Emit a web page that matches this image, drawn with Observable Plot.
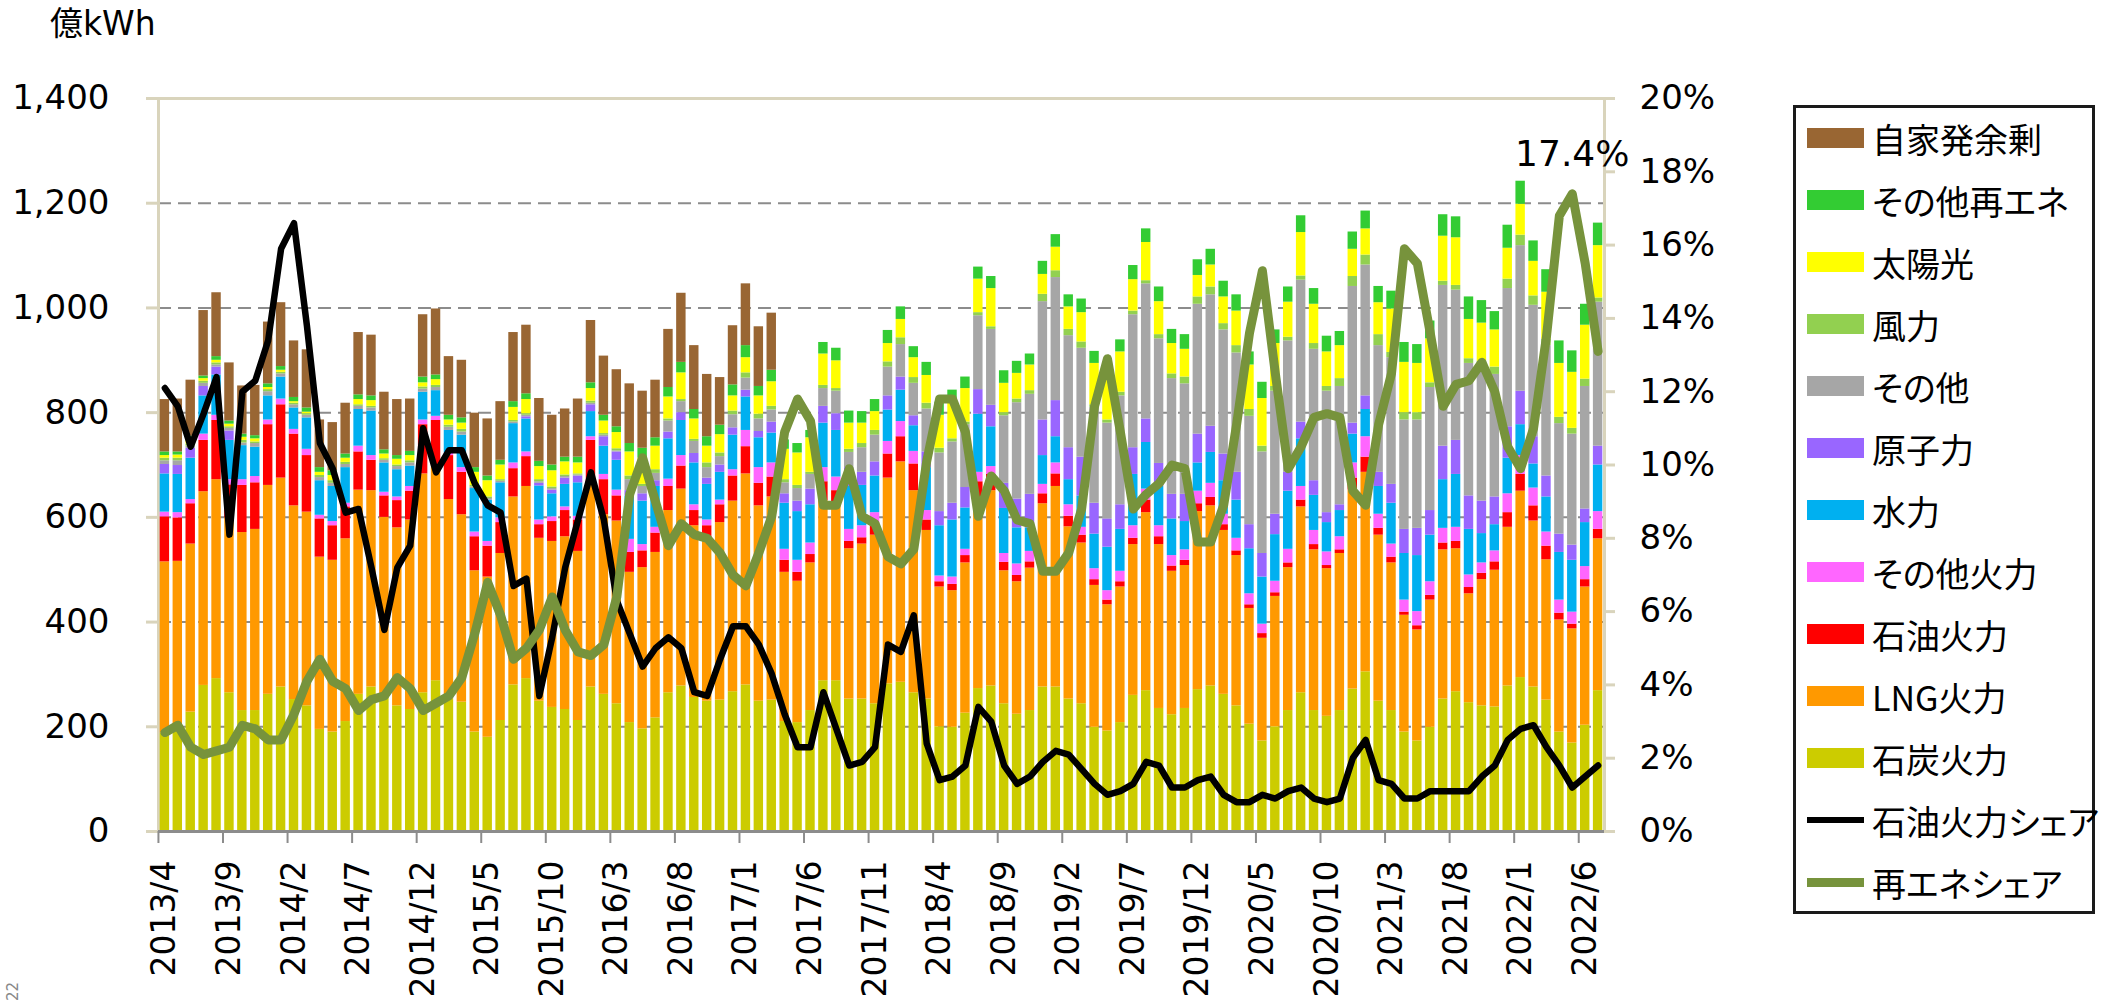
<!DOCTYPE html>
<html>
<head>
<meta charset="utf-8">
<script src="https://cdn.jsdelivr.net/npm/d3@7"></script>
<script src="https://cdn.jsdelivr.net/npm/@observablehq/plot@0.6"></script>
<style>
  html, body { margin: 0; padding: 0; background: #ffffff; }
  #wrap { position: relative; width: 2107px; height: 1005px; overflow: hidden; background: #ffffff;
          font-family: "DejaVu Sans", "Noto Sans CJK JP", sans-serif; }
  #chart { position: absolute; left: 0; top: 0; }
  #unit { position: absolute; left: 50px; top: 2px; font-size: 33px; line-height: 44px; color: #000; }
  #legend { position: absolute; left: 1793px; top: 105px; width: 302px; height: 809px;
            border: 3px solid #1a1a1a; box-sizing: border-box; background: #fff; }
  .item { position: absolute; left: 11px; height: 44px; display: flex; align-items: center;
          font-family: "Noto Sans CJK JP", sans-serif; font-size: 34px; color: #000;
          font-feature-settings: "palt"; white-space: nowrap; }
  .sw { width: 57px; height: 20px; margin-right: 8px; flex: none; }
  .ln { width: 57px; margin-right: 8px; flex: none; }
  #note { position: absolute; left: 4px; top: 1001px; font-size: 15px; line-height: 18px; color: #888;
          transform: rotate(-90deg); transform-origin: left top; white-space: nowrap; }
</style>
</head>
<body>
<div id="wrap">
  <div id="chart"></div>
  <div id="unit">億kWh</div>
  <div id="legend"></div>
  <div id="note">22</div>
</div>
<script>
// ---------- categories ----------
const months = [
  "2013/4","2013/5","2013/6","2013/7","2013/8","2013/9","2013/10","2013/11","2013/12",
  "2014/1","2014/2","2014/3","2014/4","2014/5","2014/6","2014/7","2014/8","2014/9","2014/10","2014/11","2014/12",
  "2015/1","2015/2","2015/3","2015/4","2015/5","2015/6","2015/7","2015/8","2015/9","2015/10","2015/11","2015/12",
  "2016/1","2016/2","2016/3","2016/4","2016/5","2016/6","2016/7","2016/8","2016/9","2016/10","2016/11","2016/12",
  "2017/1","2017/2","2017/3","2017/4","2017/5","2017/6","2017/7","2017/8","2017/9","2017/10","2017/11","2017/12",
  "2018/1","2018/2","2018/3","2018/4","2018/5","2018/6","2018/7","2018/8","2018/9","2018/10","2018/11","2018/12",
  "2019/1","2019/2","2019/3","2019/4","2019/5","2019/6","2019/7","2019/8","2019/9","2019/10","2019/11","2019/12",
  "2020/1","2020/2","2020/3","2020/4","2020/5","2020/6","2020/7","2020/8","2020/9","2020/10","2020/11","2020/12",
  "2021/1","2021/2","2021/3","2021/4","2021/5","2021/6","2021/7","2021/8","2021/9","2021/10","2021/11","2021/12",
  "2022/1","2022/2","2022/3","2022/4","2022/5","2022/6","2022/7"
];
const tickLabels = ["2013/4","2013/9","2014/2","2014/7","2014/12","2015/5","2015/10","2016/3","2016/8",
  "2017/1","2017/6","2017/11","2018/4","2018/9","2019/2","2019/7","2019/12","2020/5","2020/10",
  "2021/3","2021/8","2022/1","2022/6"];
const yTicks = [0, 200, 400, 600, 800, 1000, 1200, 1400];
const pctTicks = [0, 2, 4, 6, 8, 10, 12, 14, 16, 18, 20];

// ---------- series values (億kWh) ----------
const coal = [188,203,228,279,292,265,231,231,262,276,252,240,195,190,
  210,262,276,258,240,233,265,288,253,247,190,180,212,280,
  292,249,237,233,212,276,262,244,208,196,217,265,278,256,
  249,251,267,280,249,251,210,208,231,288,288,253,253,244,
  282,285,265,253,200,199,226,273,278,244,224,231,276,276,
  253,244,199,192,208,260,269,235,223,235,271,278,262,240,
  205,173,200,231,265,231,220,231,272,305,249,231,190,173,
  199,253,267,246,240,238,278,294,276,251,190,169,203,269];
const lng = [327,313,321,370,380,334,340,346,399,399,370,370,329,328,
  349,390,375,342,340,362,418,412,381,358,308,306,319,359,
  367,311,317,330,323,387,343,349,287,308,316,348,376,328,
  307,339,364,403,373,388,285,270,282,344,337,287,296,322,
  393,421,386,322,267,261,287,362,373,254,253,272,350,383,
  329,307,271,241,259,288,340,313,274,273,340,344,313,287,
  221,196,249,273,355,307,282,300,380,381,317,282,223,212,
  243,285,273,208,241,261,303,356,317,268,214,218,264,290];
const oil = [86,83,77,98,113,63,90,89,116,140,137,108,73,66,
  61,73,58,41,52,55,94,85,84,81,65,59,59,54,
  57,26,38,50,60,84,67,48,38,32,37,46,44,29,
  28,34,48,52,43,38,23,17,16,36,26,14,12,18,
  46,48,51,20,10,12,14,33,31,16,12,12,19,24,
  20,15,11,9,10,12,24,15,10,10,15,16,11,9,
  7,9,7,9,13,10,6,7,23,29,13,11,6,8,
  9,13,14,12,12,16,28,32,29,26,13,9,14,18];
const otherThermal = [9,10,8,12,10,10,11,12,9,11,9,12,7,8,
  7,11,9,7,7,9,9,8,5,9,9,9,9,11,
  9,9,9,7,7,7,10,11,25,12,11,14,20,11,
  11,9,12,31,30,27,21,23,22,27,26,23,23,25,
  24,29,24,18,11,14,12,18,15,17,22,20,18,21,
  22,15,21,18,20,24,21,21,20,20,24,27,20,24,
  21,18,22,26,26,27,26,25,29,39,27,25,23,27,
  26,28,27,24,20,21,36,36,34,27,25,23,25,34];
const hydro = [73,73,79,73,77,75,65,56,46,42,41,60,66,67,
  68,70,85,56,52,39,53,49,43,62,83,79,67,75,
  63,65,44,43,64,48,54,57,82,83,78,77,67,80,
  68,53,66,64,57,57,88,93,73,85,89,82,77,70,
  60,60,49,82,96,109,79,111,76,86,69,45,55,50,
  48,60,66,83,80,98,89,75,70,54,54,59,64,73,
  86,90,89,111,91,67,56,50,55,52,53,78,89,107,
  89,93,101,87,56,50,68,59,46,67,91,99,84,89];
const nuclear = [18,17,19,18,15,18,0,0,0,0,0,0,0,0,
  0,0,0,0,0,0,0,0,0,0,0,0,0,0,
  4,5,7,12,13,13,18,16,11,14,11,13,15,18,
  12,14,14,13,12,21,18,20,30,32,32,36,25,27,
  27,25,19,30,27,32,39,47,41,48,55,64,68,69,
  61,74,59,54,47,51,45,44,47,52,55,50,51,53,
  46,45,39,36,32,28,19,11,21,26,27,36,46,52,
  47,64,65,64,62,53,60,64,52,40,35,29,26,36];
const otherGen = [7,9,4,6,4,5,5,7,8,6,6,5,6,6,
  6,6,6,5,6,6,6,6,6,6,3,3,3,3,
  3,3,3,3,2,3,3,2,21,14,14,21,21,23,
  20,16,25,23,24,23,21,24,28,34,43,29,47,51,
  55,62,62,82,112,117,120,141,145,129,184,191,226,235,
  214,208,183,183,208,254,258,238,221,211,248,251,237,228,
  207,194,235,251,271,251,232,226,261,250,242,242,209,207,
  235,307,287,253,257,234,264,278,251,249,211,212,234,275];
const wind = [5,5,4,4,4,3,5,3,4,3,3,3,4,5,
  4,3,3,3,3,4,4,4,4,5,3,3,3,3,
  3,4,3,3,2,4,3,4,7,4,7,4,4,4,
  9,7,7,10,9,7,6,6,4,6,5,6,8,9,
  10,13,11,11,9,6,5,6,5,6,7,7,14,13,
  12,12,5,6,7,7,6,8,9,13,14,15,12,14,
  13,11,9,7,8,11,9,15,19,19,21,10,14,14,
  9,8,9,9,10,14,18,20,18,12,12,11,14,8];
const solar = [5,6,7,5,5,5,6,6,4,4,3,3,6,10,
  8,10,11,9,11,10,8,11,10,12,25,31,28,25,
  27,25,31,25,21,24,24,31,46,50,45,42,51,39,
  32,35,29,29,35,47,58,62,66,60,53,50,39,36,
  35,35,38,53,63,75,64,64,73,56,49,49,38,45,
  43,56,79,82,77,60,73,63,58,53,41,42,51,66,
  85,91,82,67,83,75,66,63,52,50,61,83,96,94,
  84,86,91,75,73,71,59,59,66,90,103,107,103,100];
const otherRE = [7,6,8,5,7,6,6,6,7,7,8,8,9,9,
  8,9,9,8,7,8,11,9,9,10,9,9,9,11,
  11,10,11,9,11,11,11,11,16,19,16,18,20,18,
  18,18,21,23,18,22,18,18,14,22,24,23,22,23,
  25,24,21,25,25,18,22,23,23,24,23,21,25,24,
  23,26,23,23,23,27,26,28,27,28,30,30,30,31,
  25,31,26,29,32,30,30,27,33,34,31,34,38,36,
  34,41,40,43,43,35,44,44,39,43,43,41,40,43];
const selfSurplus = [100,101,107,125,122,111,92,96,118,122,108,111,91,92,
  97,119,116,110,107,100,119,126,112,110,104,109,112,132,
  131,120,95,92,111,119,113,109,114,109,110,111,132,122,
  119,91,113,118,114,109,0,0,0,0,0,0,0,0,
  0,0,0,0,0,0,0,0,0,0,0,0,0,0,
  0,0,0,0,0,0,0,0,0,0,0,0,0,0,
  0,0,0,0,0,0,0,0,0,0,0,0,0,0,
  0,0,0,0,0,0,0,0,0,0,0,0,0,0];

// ---------- share lines (%) ----------
const oilShare = [12.1,11.6,10.5,11.4,12.4,8.1,12.0,12.3,13.4,15.9,16.6,13.8,10.6,9.9,
  8.7,8.8,7.2,5.5,7.2,7.8,11.0,9.8,10.4,10.4,9.5,8.9,8.7,6.7,
  6.9,3.7,5.3,7.2,8.5,9.8,8.5,6.3,5.4,4.5,5.0,5.3,5.0,3.8,
  3.7,4.7,5.6,5.6,5.1,4.3,3.2,2.3,2.3,3.8,2.8,1.8,1.9,2.3,
  5.1,4.9,5.9,2.4,1.4,1.5,1.8,3.4,3.0,1.8,1.3,1.5,1.9,2.2,
  2.1,1.7,1.3,1.0,1.1,1.3,1.9,1.8,1.2,1.2,1.4,1.5,1.0,0.8,
  0.8,1.0,0.9,1.1,1.2,0.9,0.8,0.9,2.0,2.5,1.4,1.3,0.9,0.9,
  1.1,1.1,1.1,1.1,1.5,1.8,2.5,2.8,2.9,2.3,1.8,1.2,1.5,1.8];
const reShare = [2.7,2.9,2.3,2.1,2.2,2.3,2.9,2.8,2.5,2.5,3.2,4.1,4.7,4.1,
  3.9,3.3,3.6,3.7,4.2,3.9,3.3,3.5,3.7,4.2,5.4,6.8,5.9,4.7,
  5.0,5.5,6.4,5.5,4.9,4.8,5.1,6.4,9.2,10.2,9.0,7.8,8.4,8.1,
  8.0,7.6,7.0,6.7,7.6,8.6,10.9,11.8,11.2,8.9,8.9,9.9,8.6,8.4,
  7.5,7.3,7.7,10.1,11.8,11.8,10.9,8.6,9.7,9.3,8.5,8.4,7.1,7.1,
  7.6,8.8,11.6,12.9,10.9,8.8,9.2,9.5,10.0,9.9,7.9,7.9,8.9,11.1,
  13.6,15.3,12.5,9.9,10.5,11.3,11.4,11.3,9.3,8.9,11.1,12.5,15.9,15.5,
  13.6,11.6,12.2,12.3,12.8,12.0,10.5,9.9,11.0,13.5,16.8,17.4,15.5,13.1];

const peakLabel = {month: "2022/5", value: 17.4, text: "17.4%"};

// ---------- series names / colours (bottom -> top) ----------
const stackOrder = ["石炭火力","LNG火力","石油火力","その他火力","水力","原子力","その他","風力","太陽光","その他再エネ","自家発余剰"];
const stackColors = ["#CCCC00","#FF9900","#FF0000","#FF66FF","#00B0F0","#9966FF","#A6A6A6","#92D050","#FFFF00","#33CC33","#996633"];
const seriesValues = [coal, lng, oil, otherThermal, hydro, nuclear, otherGen, wind, solar, otherRE, selfSurplus];
const oilLineName = "石油火力シェア", reLineName = "再エネシェア";
const oilLineColor = "#000000", reLineColor = "#77933C";

// right axis: 20% corresponds to 1400 億kWh
const PCT = 1400 / 20;

const rows = [];
months.forEach((m, i) => {
  stackOrder.forEach((s, k) => rows.push({month: m, series: s, value: seriesValues[k][i]}));
});
const shares = months.map((m, i) => ({month: m, oil: oilShare[i], re: reShare[i]}));

const W = 2107, H = 1005;
const mL = 158, mR = 503, mT = 98, mB = 174;
const step = (W - mL - mR) / (months.length - 0.27 + 0.26);

const gridColor = "#8C8C8C", frameColor = "#D9D4BC";

const chart = Plot.plot({
  width: W, height: H,
  marginLeft: mL, marginRight: mR, marginTop: mT, marginBottom: mB,
  style: {fontFamily: '"DejaVu Sans", "Noto Sans CJK JP", sans-serif', color: "#000", background: "transparent", overflow: "visible"},
  x: {type: "band", domain: months, paddingInner: 0.27, paddingOuter: 0.13, round: false},
  y: {domain: [0, 1400]},
  color: {domain: stackOrder, range: stackColors},
  marks: [
    Plot.ruleY(yTicks.slice(1), {stroke: gridColor, strokeWidth: 2, strokeDasharray: "13,7"}),
    Plot.frame({stroke: frameColor, strokeWidth: 3}),
    Plot.barY(rows, {x: "month", y: "value", fill: "series", order: stackOrder}),
    Plot.ruleY([0], {stroke: gridColor, strokeWidth: 3}),
    Plot.axisY({anchor: "left", ticks: yTicks, tickFormat: d3.format(","), tickSize: 12, tickPadding: 37,
      fontSize: 34, stroke: frameColor, strokeWidth: 3, label: null}),
    Plot.axisY({anchor: "right", ticks: pctTicks.map(p => p * PCT), tickFormat: d => `${Math.round(d / PCT)}%`,
      tickSize: 10, tickPadding: 25, fontSize: 34, stroke: frameColor, strokeWidth: 3, label: null}),
    Plot.axisX({ticks: tickLabels, tickRotate: -90, tickSize: 0, tickPadding: 29, fontSize: 33, label: null}),
    Plot.axisX({ticks: tickLabels, tickSize: 12, tickFormat: () => "", dx: -step / 2, stroke: gridColor, strokeWidth: 2, label: null}),
    Plot.line(shares, {x: "month", y: d => d.oil * PCT, stroke: oilLineColor, strokeWidth: 6.5, strokeLinejoin: "round", strokeLinecap: "round"}),
    Plot.line(shares, {x: "month", y: d => d.re * PCT, stroke: reLineColor, strokeWidth: 9, strokeLinejoin: "round", strokeLinecap: "round"}),
    Plot.text([peakLabel], {x: "month", y: d => d.value * PCT, text: "text", dy: -39, fontSize: 36, fill: "#000"})
  ]
});
document.getElementById("chart").appendChild(chart);

// ---------- legend ----------
const legend = document.getElementById("legend");
const legendItems = stackOrder.map((s, k) => ({name: s, color: stackColors[k], kind: "bar"})).reverse()
  .concat([{name: oilLineName, color: oilLineColor, kind: "line", w: 6.5},
           {name: reLineName, color: reLineColor, kind: "line", w: 9}]);
legendItems.forEach((it, k) => {
  const div = document.createElement("div");
  div.className = "item";
  div.style.top = (138 + 62 * k - 22 - 108) + "px";
  const sw = document.createElement("div");
  if (it.kind === "bar") { sw.className = "sw"; sw.style.background = it.color; }
  else { sw.className = "ln"; sw.style.height = it.w + "px"; sw.style.background = it.color; }
  div.appendChild(sw);
  const t = document.createElement("span");
  t.textContent = it.name;
  div.appendChild(t);
  legend.appendChild(div);
});
</script>
</body>
</html>
